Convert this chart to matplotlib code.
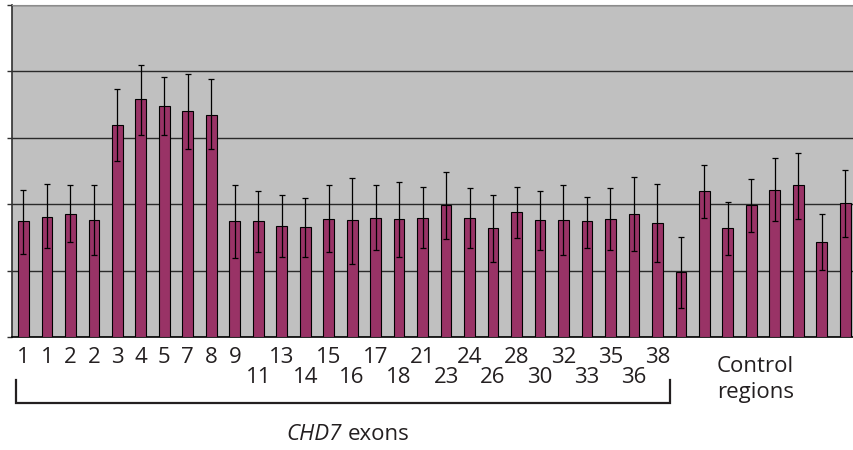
import numpy as np
import matplotlib
matplotlib.use("Agg")
import matplotlib.pyplot as plt
from matplotlib.lines import Line2D
from matplotlib.transforms import blended_transform_factory

# bar heights (y axis 0..5, no labels shown)
values = [1.75, 1.81, 1.855, 1.76, 3.20, 3.58, 3.48, 3.40, 3.35, 1.75,
          1.75, 1.68, 1.654, 1.78, 1.76, 1.80, 1.78, 1.80, 1.985, 1.80,
          1.64, 1.885, 1.76, 1.76, 1.745, 1.78, 1.855, 1.715, 0.987,
          2.195, 1.64, 1.985, 2.21, 2.285, 1.44, 2.015]
# error bar ends
ci_hi = [2.21, 2.30, 2.285, 2.285, 3.74, 4.10, 3.91, 3.955, 3.88, 2.285,
         2.195, 2.145, 2.10, 2.285, 2.40, 2.285, 2.34, 2.255, 2.48, 2.24,
         2.145, 2.255, 2.20, 2.285, 2.115, 2.24, 2.415, 2.30, 1.51,
         2.595, 2.04, 2.38, 2.70, 2.78, 1.855, 2.51]
ci_lo = [1.25, 1.34, 1.44, 1.24, 2.66, 3.05, 3.04, 2.84, 2.84, 1.20,
         1.29, 1.21, 1.21, 1.28, 1.11, 1.31, 1.21, 1.34, 1.48, 1.35,
         1.14, 1.50, 1.31, 1.24, 1.35, 1.31, 1.30, 1.14, 0.445,
         1.80, 1.24, 1.58, 1.745, 1.78, 1.01, 1.51]
# exon labels, the remaining bars carry none
exon_labels = ['1', '1', '2', '2', '3', '4', '5', '7', '8', '9',
               '11', '13', '14', '15', '16', '17', '18', '21', '23', '24',
               '26', '28', '30', '32', '33', '35', '36', '38']

values = np.array(values)
yerr = [values - np.array(ci_lo), np.array(ci_hi) - values]
x = np.arange(len(values))

W, H = 854, 450
fig = plt.figure(figsize=(W / 100, H / 100), dpi=100)
ax = fig.add_axes([11.7 / W, (H - 337.3) / H, (W - 11.7) / W, 332.3 / H])
ax.set_facecolor('#c0c0c0')

ax.bar(x, values, width=0.455, color='#993366', edgecolor='black',
       linewidth=0.8, zorder=3)
ax.errorbar(x, values, yerr=yerr, fmt='none', ecolor='black',
            elinewidth=0.9, capsize=2.4, capthick=0.9, zorder=4)

ax.set_xlim(-0.5, (W - 11.7) / 23.48 - 0.5)
ax.set_ylim(0, 5)
ax.set_yticks(np.arange(0, 6, 1))
ax.set_yticklabels([])
ax.tick_params(axis='y', direction='out', length=3.5, width=1, color='#303030')
ax.set_xticks([])
ax.yaxis.grid(True, color='#2a2a2a', linewidth=1.0)
ax.set_axisbelow(True)
for s in ['right']:
    ax.spines[s].set_visible(False)
ax.spines['top'].set_color('#8c8c8c')
ax.spines['left'].set_color('#303030')
ax.spines['bottom'].set_color('black')
ax.spines['left'].set_linewidth(1.2)
ax.spines['bottom'].set_linewidth(1.2)

font = 'Open Sans'
tcol = '#231f20'
trans = blended_transform_factory(ax.transData, fig.transFigure)
for i, lab in enumerate(exon_labels):
    lower = i >= 10 and (i - 10) % 2 == 0
    yb = 382.7 if lower else 363.3
    ax.text(i, (H - yb) / H, lab, transform=trans, ha='center',
            va='baseline', fontsize=16, family=font, color=tcol)

# bracket under the exon labels
bx0, bx1 = 16 / W, 670 / W
by0, by1 = (H - 380) / H, (H - 403.3) / H
fig.add_artist(Line2D([bx0, bx0, bx1, bx1], [by0, by1, by1, by0],
                      transform=fig.transFigure, color=tcol, linewidth=1.6,
                      solid_joinstyle='miter'))

fig.text(342 / W, (H - 440) / H, 'CHD7', ha='right', va='baseline',
         fontsize=16, family=font, style='italic', color=tcol)
fig.text(348 / W, (H - 440) / H, 'exons', ha='left', va='baseline',
         fontsize=16, family=font, color=tcol)
fig.text(717 / W, (H - 371.7) / H, 'Control', ha='left', va='baseline',
         fontsize=16, family=font, color=tcol)
fig.text(717 / W, (H - 398) / H, 'regions', ha='left', va='baseline',
         fontsize=16, family=font, color=tcol)

fig.savefig('out.png', dpi=100)
